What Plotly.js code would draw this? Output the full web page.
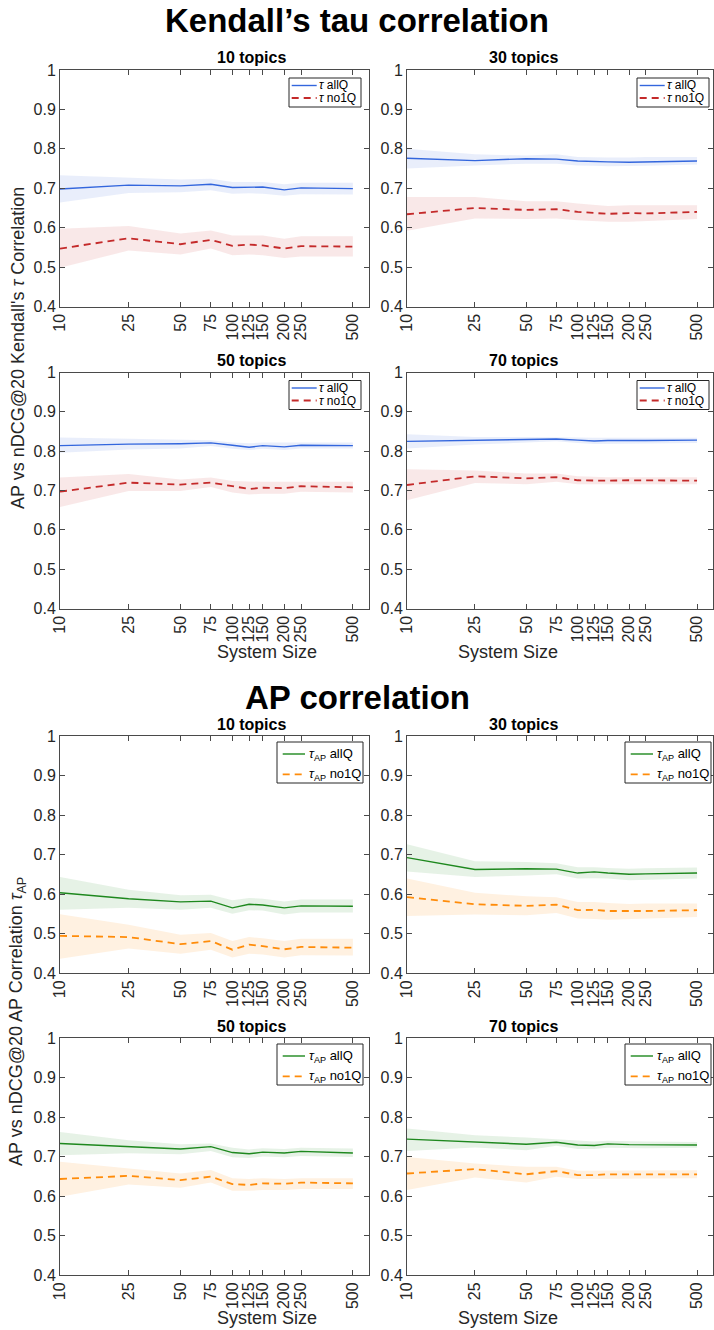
<!DOCTYPE html>
<html>
<head>
<meta charset="utf-8">
<script src="https://cdn.plot.ly/plotly-3.0.1.min.js"></script>
<style>html,body{margin:0;padding:0;background:#fff;}#chart{width:714px;height:1330px;}</style>
</head>
<body>
<div id="chart"></div>
<script>
// ---------------- DATA ----------------
const sysSize = [10, 25, 50, 75, 100, 125, 150, 200, 250, 500];
const xTickVals = [10, 25, 50, 75, 100, 125, 150, 200, 250, 500];
const xTickText = ["10", "25", "50", "75", "100", "125", "150", "200", "250", "500"];
const yTickVals = [0.4, 0.5, 0.6, 0.7, 0.8, 0.9, 1];
const yTickText = ["0.4", "0.5", "0.6", "0.7", "0.8", "0.9", "1"];
const topicLabels = ["10 topics", "30 topics", "50 topics", "70 topics"];

// Kendall's tau, 10 topics
const kt10_allQ    = [0.698, 0.708, 0.706, 0.710, 0.702, 0.703, 0.703, 0.696, 0.701, 0.699];
const kt10_allQ_hi = [0.733, 0.726, 0.722, 0.724, 0.716, 0.716, 0.716, 0.710, 0.714, 0.714];
const kt10_allQ_lo = [0.664, 0.688, 0.690, 0.695, 0.686, 0.687, 0.686, 0.681, 0.685, 0.684];
const kt10_no1Q    = [0.547, 0.573, 0.558, 0.569, 0.554, 0.557, 0.555, 0.547, 0.553, 0.552];
const kt10_no1Q_hi = [0.597, 0.604, 0.585, 0.593, 0.580, 0.580, 0.580, 0.572, 0.578, 0.578];
const kt10_no1Q_lo = [0.498, 0.542, 0.532, 0.547, 0.530, 0.532, 0.530, 0.523, 0.527, 0.527];
// Kendall's tau, 30 topics
const kt30_allQ    = [0.776, 0.770, 0.775, 0.774, 0.769, 0.767, 0.767, 0.766, 0.767, 0.769];
const kt30_allQ_hi = [0.800, 0.786, 0.783, 0.786, 0.779, 0.778, 0.778, 0.778, 0.779, 0.779];
const kt30_allQ_lo = [0.750, 0.758, 0.762, 0.762, 0.758, 0.757, 0.756, 0.756, 0.757, 0.760];
const kt30_no1Q    = [0.634, 0.650, 0.645, 0.647, 0.640, 0.637, 0.635, 0.637, 0.636, 0.640];
const kt30_no1Q_hi = [0.678, 0.678, 0.667, 0.667, 0.661, 0.657, 0.655, 0.657, 0.657, 0.657];
const kt30_no1Q_lo = [0.592, 0.623, 0.622, 0.623, 0.619, 0.616, 0.615, 0.615, 0.617, 0.622];
// Kendall's tau, 50 topics
const kt50_allQ    = [0.814, 0.818, 0.819, 0.821, 0.815, 0.810, 0.814, 0.811, 0.815, 0.814];
const kt50_allQ_hi = [0.835, 0.831, 0.828, 0.828, 0.822, 0.820, 0.822, 0.821, 0.822, 0.822];
const kt50_allQ_lo = [0.796, 0.804, 0.807, 0.813, 0.806, 0.803, 0.806, 0.803, 0.807, 0.807];
const kt50_no1Q    = [0.697, 0.720, 0.715, 0.720, 0.711, 0.704, 0.707, 0.706, 0.711, 0.708];
const kt50_no1Q_hi = [0.733, 0.742, 0.728, 0.733, 0.724, 0.722, 0.722, 0.722, 0.722, 0.722];
const kt50_no1Q_lo = [0.658, 0.699, 0.699, 0.709, 0.695, 0.690, 0.692, 0.692, 0.697, 0.695];
// Kendall's tau, 70 topics
const kt70_allQ    = [0.825, 0.827, 0.830, 0.831, 0.828, 0.826, 0.827, 0.826, 0.827, 0.828];
const kt70_allQ_hi = [0.843, 0.836, 0.836, 0.836, 0.835, 0.834, 0.834, 0.834, 0.834, 0.834];
const kt70_allQ_lo = [0.807, 0.817, 0.822, 0.825, 0.821, 0.818, 0.819, 0.819, 0.820, 0.821];
const kt70_no1Q    = [0.714, 0.736, 0.731, 0.734, 0.726, 0.725, 0.725, 0.726, 0.726, 0.725];
const kt70_no1Q_hi = [0.754, 0.751, 0.743, 0.743, 0.736, 0.734, 0.734, 0.734, 0.734, 0.734];
const kt70_no1Q_lo = [0.675, 0.719, 0.716, 0.722, 0.716, 0.716, 0.716, 0.716, 0.716, 0.716];
// AP correlation, 10 topics
const ap10_allQ    = [0.603, 0.588, 0.580, 0.582, 0.565, 0.574, 0.572, 0.565, 0.570, 0.569];
const ap10_allQ_hi = [0.643, 0.611, 0.597, 0.598, 0.584, 0.590, 0.588, 0.581, 0.586, 0.586];
const ap10_allQ_lo = [0.560, 0.565, 0.560, 0.565, 0.550, 0.559, 0.558, 0.548, 0.553, 0.553];
const ap10_no1Q    = [0.494, 0.491, 0.473, 0.481, 0.459, 0.472, 0.468, 0.460, 0.466, 0.464];
const ap10_no1Q_hi = [0.549, 0.522, 0.497, 0.501, 0.481, 0.491, 0.488, 0.481, 0.487, 0.487];
const ap10_no1Q_lo = [0.436, 0.462, 0.449, 0.459, 0.439, 0.449, 0.447, 0.439, 0.445, 0.444];
// AP correlation, 30 topics
const ap30_allQ    = [0.692, 0.662, 0.664, 0.663, 0.653, 0.656, 0.653, 0.650, 0.651, 0.653];
const ap30_allQ_hi = [0.726, 0.683, 0.681, 0.678, 0.668, 0.668, 0.666, 0.664, 0.665, 0.667];
const ap30_allQ_lo = [0.657, 0.643, 0.647, 0.650, 0.639, 0.640, 0.639, 0.635, 0.637, 0.639];
const ap30_no1Q    = [0.592, 0.574, 0.570, 0.573, 0.559, 0.560, 0.557, 0.556, 0.557, 0.559];
const ap30_no1Q_hi = [0.639, 0.603, 0.594, 0.592, 0.580, 0.580, 0.577, 0.575, 0.576, 0.576];
const ap30_no1Q_lo = [0.544, 0.548, 0.546, 0.552, 0.538, 0.537, 0.535, 0.537, 0.539, 0.542];
// AP correlation, 50 topics
const ap50_allQ    = [0.733, 0.725, 0.719, 0.725, 0.710, 0.707, 0.711, 0.709, 0.713, 0.709];
const ap50_allQ_hi = [0.762, 0.741, 0.731, 0.733, 0.722, 0.718, 0.721, 0.719, 0.722, 0.720];
const ap50_allQ_lo = [0.703, 0.708, 0.706, 0.714, 0.698, 0.696, 0.700, 0.698, 0.701, 0.699];
const ap50_no1Q    = [0.643, 0.651, 0.640, 0.649, 0.630, 0.628, 0.632, 0.631, 0.634, 0.632];
const ap50_no1Q_hi = [0.687, 0.670, 0.657, 0.666, 0.645, 0.643, 0.645, 0.643, 0.645, 0.645];
const ap50_no1Q_lo = [0.598, 0.629, 0.621, 0.634, 0.613, 0.613, 0.615, 0.615, 0.618, 0.618];
// AP correlation, 70 topics
const ap70_allQ    = [0.744, 0.737, 0.731, 0.736, 0.729, 0.728, 0.732, 0.730, 0.730, 0.729];
const ap70_allQ_hi = [0.771, 0.754, 0.748, 0.743, 0.739, 0.738, 0.740, 0.738, 0.738, 0.737];
const ap70_allQ_lo = [0.714, 0.723, 0.716, 0.727, 0.719, 0.719, 0.722, 0.721, 0.721, 0.722];
const ap70_no1Q    = [0.657, 0.668, 0.655, 0.663, 0.653, 0.653, 0.655, 0.655, 0.655, 0.655];
const ap70_no1Q_hi = [0.699, 0.682, 0.674, 0.674, 0.664, 0.664, 0.665, 0.665, 0.665, 0.665];
const ap70_no1Q_lo = [0.615, 0.647, 0.634, 0.649, 0.643, 0.643, 0.644, 0.644, 0.644, 0.645];

// ---------------- LAYOUT HELPERS ----------------
const W = 714, H = 1330;
const FONT = "Liberation Sans, Arial, Helvetica, sans-serif";
const AX = "#262626";
const FRAME = "#4a4a4a";
const px = v => v / W;
const py = v => 1 - v / H;

const colX = [[60, 369], [407, 713]];
const rowY = [[70, 306.5], [372.5, 608.5], [736, 973], [1038, 1275]];
const X_MAX = 620;

const kendallStyle = {
  a: {name: "<i>τ</i> allQ",  color: "#3366dd", fill: "rgba(51,102,221,0.11)", dash: "solid", width: 1.4},
  b: {name: "<i>τ</i> no1Q",  color: "#c42a2a", fill: "rgba(196,42,42,0.11)",  dash: "7px,5px", width: 1.8},
  leg: {w: 72, top: 8, h: 29, rows: [15.5, 28], lineX: [2.7, 27.7], textX: 29, font: 12, rightOff: [8, 4]}
};
const apStyle = {
  a: {name: "<i>τ</i><sub>AP</sub> allQ", color: "#1e881e", fill: "rgba(30,136,30,0.11)",  dash: "solid", width: 1.4},
  b: {name: "<i>τ</i><sub>AP</sub> no1Q", color: "#ff8c0a", fill: "rgba(255,140,10,0.12)", dash: "7px,5px", width: 1.8},
  leg: {w: 86, top: 6, h: 41, rows: [18, 38.3], lineX: [5.7, 28], textX: 31, font: 13, rightOff: [6, 2]}
};

const panels = [
  {row: 0, col: 0, title: topicLabels[0], st: kendallStyle, a: [kt10_allQ, kt10_allQ_lo, kt10_allQ_hi], b: [kt10_no1Q, kt10_no1Q_lo, kt10_no1Q_hi]},
  {row: 0, col: 1, title: topicLabels[1], st: kendallStyle, a: [kt30_allQ, kt30_allQ_lo, kt30_allQ_hi], b: [kt30_no1Q, kt30_no1Q_lo, kt30_no1Q_hi]},
  {row: 1, col: 0, title: topicLabels[2], st: kendallStyle, a: [kt50_allQ, kt50_allQ_lo, kt50_allQ_hi], b: [kt50_no1Q, kt50_no1Q_lo, kt50_no1Q_hi]},
  {row: 1, col: 1, title: topicLabels[3], st: kendallStyle, a: [kt70_allQ, kt70_allQ_lo, kt70_allQ_hi], b: [kt70_no1Q, kt70_no1Q_lo, kt70_no1Q_hi]},
  {row: 2, col: 0, title: topicLabels[0], st: apStyle, a: [ap10_allQ, ap10_allQ_lo, ap10_allQ_hi], b: [ap10_no1Q, ap10_no1Q_lo, ap10_no1Q_hi]},
  {row: 2, col: 1, title: topicLabels[1], st: apStyle, a: [ap30_allQ, ap30_allQ_lo, ap30_allQ_hi], b: [ap30_no1Q, ap30_no1Q_lo, ap30_no1Q_hi]},
  {row: 3, col: 0, title: topicLabels[2], st: apStyle, a: [ap50_allQ, ap50_allQ_lo, ap50_allQ_hi], b: [ap50_no1Q, ap50_no1Q_lo, ap50_no1Q_hi]},
  {row: 3, col: 1, title: topicLabels[3], st: apStyle, a: [ap70_allQ, ap70_allQ_lo, ap70_allQ_hi], b: [ap70_no1Q, ap70_no1Q_lo, ap70_no1Q_hi]}
];

const traces = [];
const layout = {
  width: W, height: H,
  margin: {l: 0, r: 0, t: 0, b: 0},
  paper_bgcolor: "#fff", plot_bgcolor: "#fff",
  font: {family: FONT, color: AX},
  showlegend: false,
  annotations: [],
  shapes: []
};

panels.forEach((p, i) => {
  const n = i + 1;
  const sfx = n === 1 ? "" : String(n);
  const xa = "x" + sfx, ya = "y" + sfx;
  const [x0, x1] = colX[p.col];
  const [yt, yb] = rowY[p.row];

  ["a", "b"].forEach(k => {
    const [mid, lo, hi] = p[k];
    const s = p.st[k];
    traces.push({
      type: "scatter", mode: "lines", xaxis: xa, yaxis: ya,
      x: sysSize.concat(sysSize.slice().reverse()),
      y: hi.concat(lo.slice().reverse()),
      fill: "toself", fillcolor: s.fill,
      line: {width: 0, color: "rgba(0,0,0,0)"},
      hoverinfo: "skip", showlegend: false
    });
  });
  ["a", "b"].forEach(k => {
    const s = p.st[k];
    traces.push({
      type: "scatter", mode: "lines", xaxis: xa, yaxis: ya,
      x: sysSize, y: p[k][0], name: s.name, showlegend: false,
      line: {color: s.color, width: s.width, dash: s.dash}
    });
  });

  layout["xaxis" + sfx] = {
    type: "log", domain: [px(x0), px(x1)], range: [1, Math.log10(X_MAX)],
    anchor: ya, tickvals: xTickVals, ticktext: xTickText, tickangle: -90,
    ticks: "inside", ticklen: 5, tickwidth: 1, tickcolor: FRAME,
    showline: true, linecolor: FRAME, linewidth: 1, mirror: "ticks",
    showgrid: false, zeroline: false,
    tickfont: {family: FONT, size: 16, color: AX}
  };
  layout["yaxis" + sfx] = {
    domain: [py(yb), py(yt)], range: [0.4, 1], anchor: xa,
    tickvals: yTickVals, ticktext: yTickText,
    ticks: "inside", ticklen: 5, tickwidth: 1, tickcolor: FRAME,
    showline: true, linecolor: FRAME, linewidth: 1, mirror: "ticks",
    showgrid: false, zeroline: false,
    tickfont: {family: FONT, size: 16, color: AX}
  };

  // legend box (bordered box with line samples and labels)
  const L = p.st.leg;
  const bR = x1 - L.rightOff[p.col], bL = bR - L.w;
  const bT = yt + L.top, bB = bT + L.h;
  layout.shapes.push({
    type: "rect", xref: "paper", yref: "paper", layer: "above",
    x0: px(bL), x1: px(bR), y0: py(bB), y1: py(bT),
    fillcolor: "#fff", line: {color: AX, width: 1}
  });
  ["a", "b"].forEach((k, j) => {
    const s = p.st[k];
    const ry = yt + L.rows[j];
    layout.shapes.push({
      type: "line", xref: "paper", yref: "paper", layer: "above",
      x0: px(bL + L.lineX[0]), x1: px(bL + L.lineX[1]), y0: py(ry), y1: py(ry),
      line: {color: s.color, width: s.width, dash: s.dash}
    });
    layout.annotations.push({
      text: s.name, xref: "paper", yref: "paper",
      x: px(bL + L.textX), y: py(ry), xanchor: "left", yanchor: "middle",
      showarrow: false, borderpad: 0,
      font: {family: FONT, size: L.font, color: "#000"}
    });
  });

  layout.annotations.push({
    text: "<b>" + p.title + "</b>", xref: "paper", yref: "paper",
    x: px((x0 + x1) / 2), y: py(yt), yanchor: "middle", yshift: 12,
    showarrow: false, font: {family: FONT, size: 16, color: "#000"}
  });
  if (p.row === 1 || p.row === 3) {
    layout.annotations.push({
      text: "System Size", xref: "paper", yref: "paper",
      x: px((x0 + x1) / 2), y: py(yb), yanchor: "middle", yshift: -43,
      showarrow: false, font: {family: FONT, size: 18, color: AX}
    });
  }
});

// Main titles
layout.annotations.push({
  text: "<b>Kendall’s tau correlation</b>", xref: "paper", yref: "paper",
  x: 0.5, y: py(20), yanchor: "middle", showarrow: false,
  font: {family: FONT, size: 33, color: "#000"}
});
layout.annotations.push({
  text: "<b>AP correlation</b>", xref: "paper", yref: "paper",
  x: 0.5, y: py(697), yanchor: "middle", showarrow: false,
  font: {family: FONT, size: 33, color: "#000"}
});
// Y axis titles
layout.annotations.push({
  text: "AP vs nDCG@20 Kendall's <i>τ</i> Correlation", xref: "paper", yref: "paper",
  x: px(18), y: py(348), xanchor: "center", yanchor: "middle", textangle: -90, showarrow: false,
  font: {family: FONT, size: 18, color: AX}
});
layout.annotations.push({
  text: "AP vs nDCG@20 AP Correlation <i>τ</i><sub>AP</sub>", xref: "paper", yref: "paper",
  x: px(18), y: py(1022), xanchor: "center", yanchor: "middle", textangle: -90, showarrow: false,
  font: {family: FONT, size: 18, color: AX}
});

Plotly.newPlot("chart", traces, layout, {staticPlot: true, displayModeBar: false});
</script>
</body>
</html>
